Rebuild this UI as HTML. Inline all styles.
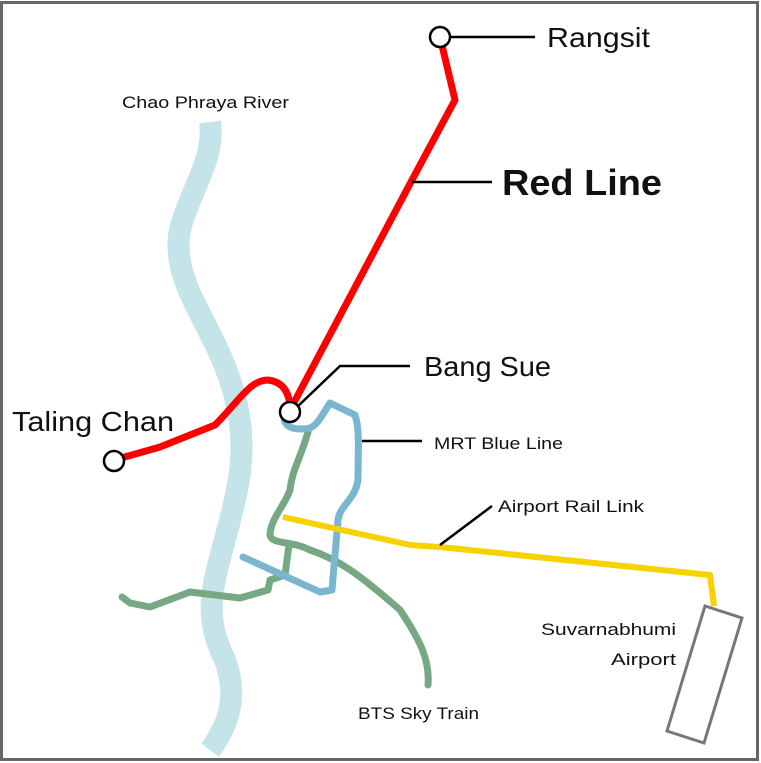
<!DOCTYPE html>
<html><head><style>
html,body{margin:0;padding:0;background:#fff}
svg{display:block}
text{font-family:"Liberation Sans",sans-serif;fill:#111}
</style></head><body>
<svg width="761" height="763" viewBox="0 0 761 763">
<rect x="0" y="0" width="761" height="763" fill="#fff"/>
<rect x="1.5" y="2.5" width="756" height="757" fill="none" stroke="#666" stroke-width="3"/>
<path d="M210 122 C215 160 190 190 180 230 C170 280 210 320 230 380 C250 440 240 480 230 520 C215 580 200 610 225 660 C240 700 225 730 210 750" fill="none" stroke="#c5e4ea" stroke-width="22"/>
<g fill="none" stroke="#77a884" stroke-width="7" stroke-linejoin="round" stroke-linecap="round">
<path d="M308 432 C300 460 292 470 290 490 C285 505 270 520 270 535 C272 545 290 540 310 550 C340 560 360 575 400 610 C420 640 430 660 428 685"/>
<path d="M289 545 L285 575 L270 580 L268 590 L240 598 L190 592 L150 607 L130 603 L122 597"/>
</g>
<g fill="none" stroke="#7ab6cf" stroke-width="7" stroke-linejoin="round" stroke-linecap="round">
<path d="M284 418 C285 430 300 430 310 428 C318 425 325 410 330 403 L355 415 C360 430 358 450 358 480 C355 500 340 505 338 520 L332 590 L320 592 L243 557"/>
</g>
<polyline points="283,517 410,545 440,547 710,575 714,606" fill="none" stroke="#f6d200" stroke-width="6" stroke-linejoin="round"/>
<polygon points="705,606 742,618 704,743 667,731" fill="#fff" stroke="#777" stroke-width="3"/>
<path d="M114 460 L160 447 L215 425 C240 400 250 380 268 380 C285 382 290 395 290 410 L412 180 L455 100 L440 37" fill="none" stroke="#f00" stroke-width="7" stroke-linejoin="round"/>
<g stroke="#000" stroke-width="2.5" fill="none">
<line x1="440" y1="37" x2="535" y2="37"/>
<line x1="412" y1="182" x2="492" y2="182"/>
<polyline points="296,408 340,366 410,366"/>
<line x1="362" y1="441" x2="422" y2="441"/>
<line x1="440" y1="545" x2="492" y2="506"/>
</g>
<g fill="#fff" stroke="#000" stroke-width="2.5">
<circle cx="440" cy="37" r="10"/>
<circle cx="290" cy="412" r="10"/>
<circle cx="114" cy="461" r="10"/>
</g>
<text x="547" y="47" font-size="28" textLength="103" lengthAdjust="spacingAndGlyphs">Rangsit</text>
<text x="502" y="195" font-size="36" font-weight="bold" textLength="160" lengthAdjust="spacingAndGlyphs">Red Line</text>
<text x="424" y="376" font-size="28" textLength="127" lengthAdjust="spacingAndGlyphs">Bang Sue</text>
<text x="12" y="431" font-size="28" textLength="162" lengthAdjust="spacingAndGlyphs">Taling Chan</text>
<text x="122" y="108" font-size="17" textLength="167" lengthAdjust="spacingAndGlyphs">Chao Phraya River</text>
<text x="434" y="449" font-size="17" textLength="129" lengthAdjust="spacingAndGlyphs">MRT Blue Line</text>
<text x="498" y="512" font-size="17" textLength="146" lengthAdjust="spacingAndGlyphs">Airport Rail Link</text>
<text x="541" y="635" font-size="17" textLength="135" lengthAdjust="spacingAndGlyphs">Suvarnabhumi</text>
<text x="611" y="665" font-size="17" textLength="65" lengthAdjust="spacingAndGlyphs">Airport</text>
<text x="358" y="719" font-size="17" textLength="121" lengthAdjust="spacingAndGlyphs">BTS Sky Train</text>
</svg>
</body></html>
